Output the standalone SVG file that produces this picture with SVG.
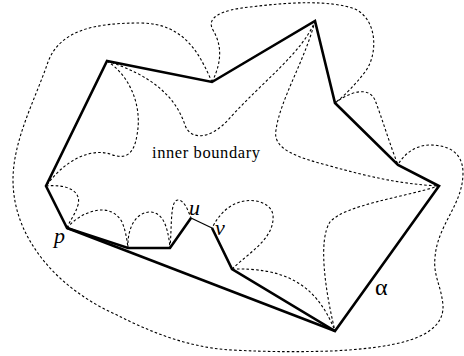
<svg xmlns="http://www.w3.org/2000/svg" width="464" height="356" viewBox="0 0 464 356">
<style>
.thick{fill:none;stroke:#000;stroke-width:2.6;stroke-linejoin:miter;stroke-linecap:butt}
.thin{fill:none;stroke:#000;stroke-width:1.2}
.dot{fill:none;stroke:#000;stroke-width:1.1;stroke-dasharray:2.6 2.2}
.lbl{font-family:"Liberation Serif","Times New Roman",serif;fill:#000}
.it{font-style:italic;font-size:22px}
</style>
<rect width="464" height="356" fill="#fff"/>
<g id="dotted-curves">
<path class="dot" d="M212,82 C200,55 185,23 140,23 C95,23 60,30 48,62 C35,100 13,140 13,180 C13,240 60,290 117,315 C150,332 190,348 232,350 C270,352 300,352 332,351 C390,348 445,340 443,305 C441,285 433,275 435,258 C437,225 463,205 463,173 C463,150 445,145 430,145 C415,145 403,155 398,165"/>
<path class="dot" d="M212,82 C224,58 220,42 213,30 C206,18 220,10 250,7 C290,2 330,0 355,9 C378,20 378,55 365,72 C355,85 345,95 335,103"/>
<path class="dot" d="M335,103 C348,93 368,85 375,100 C382,118 390,145 398,165"/>
<path class="dot" d="M107,61 C150,75 175,95 185,125 C190,140 210,140 228,120 C262,82 303,52 315,21"/>
<path class="dot" d="M107,61 C133,78 142,110 137,135 C134,155 125,160 110,154 C90,148 65,160 46,186"/>
<path class="dot" d="M315,21 C305,60 280,100 276,130 C272,150 300,158 330,166 C370,177 400,184 439,186"/>
<path class="dot" d="M439,186 C400,198 345,205 330,222 C318,240 325,290 335,331"/>
<path class="dot" d="M232,269 C280,268 315,280 335,331"/>
<path class="dot" d="M232,269 C250,252 275,238 273,215 C271,200 245,195 228,208 C220,214 215,222 212,228"/>
<path class="dot" d="M46,186 C65,184 82,190 78,205 C75,215 70,220 67,228"/>
<path class="dot" d="M67,228 C80,212 110,200 122,222 C126,232 127,240 128,248"/>
<path class="dot" d="M128,248 C127,225 138,212 150,212 C162,212 168,225 170,248"/>
<path class="dot" d="M170,248 C172,225 170,200 178,200 C184,200 188,210 191,218"/>
</g>
<g id="polygon">
<path class="thick" d="M212,228 L232,269 L335,331 L439,186 L398,165 L335,103 L315,21 L212,82 L107,61 L46,186 L67,228 L128,248 L170,248 L191,218"/>
<path class="thin" d="M191,218 L212,228"/>
<path class="thick" d="M67,228 L335,331"/>
</g>
<g id="labels">
<text class="lbl" x="152" y="158" font-size="16.5" textLength="108">inner boundary</text>
<text class="lbl it" x="54" y="243">p</text>
<text class="lbl it" x="189" y="215">u</text>
<text class="lbl it" x="215" y="235">v</text>
<text class="lbl" x="375" y="295" font-size="24">α</text>
</g>
</svg>
